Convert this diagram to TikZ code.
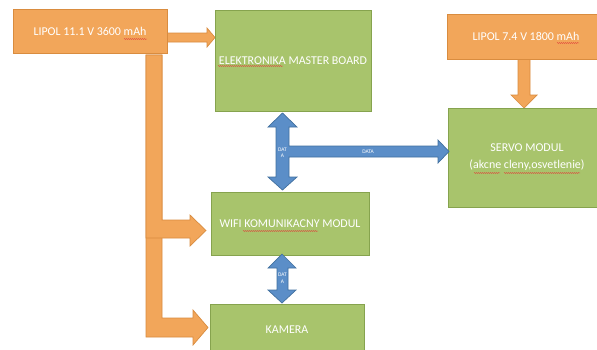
\documentclass[tikz,border=0pt]{standalone}
\usepackage{fontspec}
\setmainfont{Carlito}
\usetikzlibrary{decorations.pathmorphing}
\definecolor{orFill}{HTML}{F2A65A}
\definecolor{orLine}{HTML}{D98C3F}
\definecolor{grFill}{HTML}{A8C46C}
\definecolor{grLine}{HTML}{86A34E}
\definecolor{blFill}{HTML}{5B8EC8}
\definecolor{blLine}{HTML}{41709F}
\definecolor{spell}{HTML}{E0403A}
\begin{document}
\begin{tikzpicture}[x=1bp,y=-1bp,
  greenbox/.style={draw=grLine,line width=0.8bp,fill=grFill,text=white,font=\fontsize{12}{17}\selectfont,align=center,inner sep=0pt},
  orangebox/.style={draw=orLine,line width=0.8bp,fill=orFill,text=white,font=\fontsize{12}{17}\selectfont,align=center,inner sep=0pt},
  orarrow/.style={draw=orLine,line width=0.7bp,fill=orFill,line join=miter},
  blarrow/.style={draw=blLine,line width=0.7bp,fill=blFill,line join=miter},
  tiny/.style={text=white,font=\fontsize{5.5}{6.5}\selectfont,inner sep=0pt},
  spellline/.style={draw=spell,line width=0.4bp,decorate,decoration={snake,amplitude=0.5bp,segment length=2bp}}]
\useasboundingbox (0,0) rectangle (597,349);
\clip (0,0) rectangle (597,349);
\fill[white] (0,0) rectangle (597,349);

% orange power arrows (kamera branch first, then wifi branch on top)
\draw[orarrow] (146,55) -- (162,55) -- (162,318) -- (193,318) -- (193,310) -- (208,327.5) -- (193,345) -- (193,337) -- (146,337) -- cycle;
\draw[orarrow] (146,55) -- (162,55) -- (162,220) -- (190,220) -- (190,215) -- (206,230.5) -- (190,246) -- (190,238) -- (146,238) -- cycle;
\draw[orarrow] (166,33) -- (207,33) -- (207,28) -- (215,37.5) -- (207,47) -- (207,42) -- (166,42) -- cycle;
\draw[orarrow] (518,59) -- (530,59) -- (530,95) -- (537,95) -- (524,108) -- (511,95) -- (518,95) -- cycle;

% boxes
\node[orangebox,minimum width=154bp,minimum height=44bp] (lipolA) at (90,31) {LIPOL 11.1 V 3600 mAh};
\node[greenbox,minimum width=156bp,minimum height=101bp] (master) at (293,60.5) {ELEKTRONIKA MASTER BOARD};
\node[greenbox,minimum width=158bp,minimum height=63bp] (wifi) at (290,223.5) {WIFI KOMUNIKACNY MODUL};
\node[greenbox,minimum width=154bp,minimum height=52bp] (kamera) at (287,330) {KAMERA};
\node[orangebox,minimum width=158bp,minimum height=45bp] (lipolB) at (526,36.5) {LIPOL 7.4 V 1800 mAh};
\node[greenbox,minimum width=158bp,minimum height=99bp] (servo) at (527,157.5) {SERVO MODUL\\(akcne cleny,osvetlenie)};

% blue data arrows
\draw[blarrow] (282.5,113) -- (297,127) -- (289,127) -- (289,146) -- (438,146) -- (438,140) -- (449,151.5) -- (438,163) -- (438,157) -- (289,157) -- (289,177) -- (297,177) -- (282.5,190) -- (268,177) -- (276,177) -- (276,127) -- (268,127) -- cycle;
\draw[blarrow] (282,254) -- (296,268) -- (288,268) -- (288,290) -- (296,290) -- (282,303) -- (268,290) -- (277,290) -- (277,268) -- (268,268) -- cycle;
\node[tiny,align=center] (d1) at (282.5,152.5) {DAT\\A};
\node[tiny] (d2) at (368,152) {DATA};
\node[tiny,align=center] (d3) at (282.5,278) {DAT\\A};

% spell-check underlines
\draw[spellline] (124,39) -- (147,39);
\draw[spellline] (218,66) -- (283,66);
\draw[spellline] (243,231) -- (318,231);
\draw[spellline] (557,43) -- (579,43);
\draw[spellline] (474,173) -- (500,173);
\draw[spellline] (504,173) -- (580,173);
\end{tikzpicture}
\end{document}
